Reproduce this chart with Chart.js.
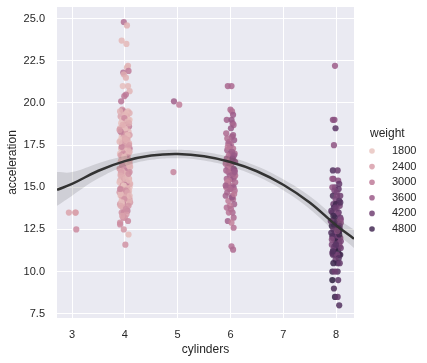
<!DOCTYPE html>
<html>
<head>
<meta charset="utf-8">
<script src="https://cdn.jsdelivr.net/npm/chart.js@4.4.1/dist/chart.umd.min.js"></script>
<style>
  html, body { margin: 0; padding: 0; background: #ffffff; }
  #wrap { width: 427px; height: 363px; }
</style>
</head>
<body>
<div id="wrap"><canvas id="chart" width="427" height="363"></canvas></div>
<script>
// Axis ticks
const xTicks = [3, 4, 5, 6, 7, 8];
const yTicks = [7.5, 10.0, 12.5, 15.0, 17.5, 20.0, 22.5, 25.0];
const legendWeights = [1800, 2400, 3000, 3600, 4200, 4800];

// 3 cylinders
const acc3 = [13.5, 13.5, 13.5, 12.5];
const wt3 = [2330, 2124, 2420, 2720];
const jit3 = [-0.06, 0.06, 0.07, 0.08];

// 4 cylinders
const acc4 = [24.8,24.6,23.7,23.5,22.2,22.1,21.9,21.8,21.7,21.5,21.0,21.0,20.7,20.5,20.4,20.1,
  19.6,19.5,19.5,19.4,19.4,19.2,19.0,19.0,19.0,19.2,19.5,19.3,19.0,19.1,
  18.9,18.8,18.7,18.6,18.6,18.5,18.5,18.4,18.3,18.2,18.2,18.1,18.0,18.0,18.0,18.0,18.5,18.8,18.3,18.7,18.1,18.4,
  17.9,17.8,17.8,17.7,17.6,17.6,17.5,17.5,17.4,17.3,17.3,17.2,17.1,17.0,17.0,17.0,17.6,17.9,17.2,17.4,17.1,17.7,17.0,17.5,17.8,
  16.9,16.9,16.8,16.7,16.6,16.5,16.5,16.4,16.4,16.2,16.2,16.1,16.0,16.0,16.0,16.0,16.3,16.6,16.8,16.5,16.7,16.1,16.4,16.2,16.9,16.0,16.5,16.8,16.3,16.6,
  15.9,15.8,15.8,15.7,15.6,15.5,15.5,15.5,15.4,15.3,15.2,15.2,15.1,15.0,15.0,15.0,15.0,15.9,15.7,15.6,15.4,15.3,15.1,15.8,15.5,15.2,15.6,15.9,15.3,15.4,15.7,15.0,15.5,15.1,15.8,
  14.9,14.8,14.7,14.6,14.5,14.5,14.5,14.4,14.3,14.2,14.2,14.1,14.0,14.0,14.0,14.0,14.9,14.8,14.7,14.6,14.4,14.3,14.1,14.9,14.5,14.8,14.2,14.6,14.4,14.7,14.0,14.3,14.5,14.9,14.1,
  13.9,13.8,13.6,13.5,13.5,13.4,13.2,13.2,13.0,13.9,13.7,13.3,
  12.9,12.8,12.5,12.2,11.6];
const wt4 = [3190,2130,1990,2000,2100,2050,3000,3150,2200,2100,1900,2000,2050,3000,3050,3100,
  2600,2900,2000,2100,1950,2300,1900,2200,2900,2130,2100,2000,1800,2700,
  2000,1850,2300,2000,2900,2100,2600,2200,1950,2050,2500,2400,1800,2300,2700,2100,1900,2200,3000,2150,1960,2450,
  2000,2300,1800,2600,2100,2900,2200,1900,2500,2050,3000,2150,2350,1850,2700,2000,2450,2250,1950,2800,2100,1990,2600,2400,2150,
  2000,2800,2200,1900,2400,2100,2600,2000,2300,1850,2700,2150,2000,2500,1950,3000,2250,2050,2450,1800,2900,2350,1900,2100,2300,2200,2000,1950,2600,2150,
  2100,2300,1900,2500,2000,2200,1800,2700,2050,2400,1950,2600,2150,2000,2300,1850,2900,2650,2000,2800,2250,1900,2500,2100,2350,2150,1850,2400,3000,1950,2200,2450,2050,1800,2600,
  2000,2200,1900,2400,2100,1850,2600,2000,2300,1950,2700,2150,2000,2500,1800,2900,2350,1900,2500,2050,2800,1850,2450,2100,2250,2650,2100,1950,2200,2300,2150,2600,1990,2750,1900,
  2500,2300,2900,2600,2750,2400,2700,2500,2800,2200,2650,2350,
  2600,2700,2500,1950,2600];
const jit4 = [-0.02,0.04,-0.06,0.03,0.06,0.04,0.07,-0.03,-0.02,0.02,-0.04,0.06,0.09,0.02,-0.01,-0.07,
  -0.05,-0.02,0.06,0.09,0.03,-0.08,-0.05,0.01,0.07,0.04,-0.09,0.00,0.09,-0.01,
  0.05,-0.07,0.02,-0.03,0.08,-0.09,0.04,-0.01,0.07,-0.05,0.01,0.09,-0.06,0.03,-0.02,0.06,0.00,0.08,-0.08,-0.04,0.05,-0.10,
  -0.03,0.05,-0.08,0.01,0.08,-0.05,0.03,-0.01,0.06,-0.07,0.09,-0.02,0.04,-0.09,0.02,0.07,-0.04,0.00,0.06,-0.06,0.09,-0.10,-0.03,0.08,0.02,
  0.04,-0.06,0.01,-0.03,0.07,-0.08,0.03,-0.01,0.09,-0.05,0.05,-0.09,0.02,-0.04,0.06,0.00,0.08,-0.07,0.05,-0.02,0.03,-0.10,0.07,0.10,-0.08,-0.06,0.01,-0.01,-0.05,0.09,
  -0.04,0.06,-0.08,0.02,-0.02,0.08,-0.06,0.04,-0.09,0.01,0.07,-0.03,0.05,-0.07,0.03,0.09,-0.01,0.09,-0.05,0.05,0.00,-0.10,-0.04,0.02,-0.01,0.10,0.06,-0.07,0.04,0.08,-0.08,-0.05,0.01,-0.02,0.07,
  0.03,-0.05,0.07,-0.02,0.05,-0.08,0.01,-0.04,0.09,-0.06,0.04,-0.01,0.06,-0.09,0.02,-0.03,-0.07,0.08,-0.10,0.00,0.07,-0.03,0.10,0.05,-0.06,0.02,0.08,-0.08,0.03,0.05,-0.05,-0.01,0.09,-0.09,-0.06,
  0.07,-0.04,0.05,-0.06,-0.02,0.03,-0.03,0.00,0.06,-0.08,0.02,-0.05,
  -0.09,-0.09,-0.02,0.07,0.01];

// 5 cylinders
const acc5 = [20.1, 19.9, 15.9];
const wt5 = [3530, 2950, 2830];
const jit5 = [-0.07, 0.03, -0.08];

// 6 cylinders
const acc6 = [21.0,21.0,19.6,19.5,19.3,19.0,19.0,18.8,18.7,18.5,18.2,18.0,17.8,17.6,17.5,17.4,17.3,17.2,17.0,17.0,
  16.9,16.8,16.7,16.6,16.5,16.5,16.4,16.2,16.0,16.0,16.0,16.0,15.9,15.8,15.7,15.6,15.5,15.5,15.5,15.4,15.3,15.2,15.1,
  15.0,15.0,15.0,14.9,14.8,14.7,14.5,14.5,14.3,14.2,14.0,13.9,13.8,13.5,13.5,13.2,13.0,12.9,12.6,11.5,11.3,
  17.1,16.3,16.1,15.7,15.3,17.7,16.9,16.4,15.8,14.9,14.4,18.1,17.9,16.6,15.1,16.7,15.9,17.4,13.7,14.6];
const wt6 = [3400,3350,3300,3200,3600,3500,3700,3600,3400,3650,3300,3500,3600,3400,3200,3700,3100,3450,3300,3600,
  3150,3500,3400,3250,3050,3650,3350,3500,3200,3400,2900,3600,3300,3100,3500,2950,3400,3200,3700,3050,3300,3450,3150,
  3000,3350,3600,2900,3200,3400,3100,3500,3250,3000,3450,2950,3200,3350,3100,3300,3500,2900,3150,3200,3300,
  3550,3000,3750,3250,2850,3350,3650,3150,3450,3350,3700,3550,3250,2950,3500,3800,3600,3000,3250,3050];
const jit6 = [-0.05,0.02,0.00,0.03,0.05,-0.07,0.02,0.04,0.06,0.01,-0.08,0.03,0.07,-0.04,0.01,-0.01,0.05,-0.06,0.08,0.00,
  -0.03,0.04,-0.07,0.06,-0.02,0.09,0.02,-0.05,0.05,-0.08,0.01,0.08,-0.04,0.03,-0.01,0.07,-0.07,0.02,0.05,-0.03,0.09,-0.05,0.04,
  -0.08,0.01,0.06,-0.02,0.08,-0.06,0.03,-0.09,0.05,-0.04,0.07,-0.01,-0.07,0.04,-0.03,0.06,-0.05,0.02,0.06,0.02,0.05,
  0.03,-0.02,0.06,0.09,-0.06,-0.02,0.07,-0.09,0.05,0.00,0.03,0.05,-0.06,-0.01,-0.09,0.04,0.08,-0.05,0.01,0.07];

// 8 cylinders
const acc8 = [22.2,19.0,19.0,18.5,17.5,16.0,16.0,15.5,15.5,15.4,15.0,15.0,14.9,14.8,14.5,14.5,14.5,14.3,14.2,14.0,
  14.0,14.0,13.9,13.8,13.7,13.5,13.5,13.4,13.2,13.2,13.0,13.0,13.0,12.9,12.8,12.7,12.6,12.5,12.5,12.5,
  12.4,12.3,12.2,12.1,12.0,12.0,12.0,12.0,12.0,11.9,11.8,11.7,11.6,11.5,11.5,11.5,11.4,11.3,11.2,11.1,
  11.0,11.0,11.0,11.0,11.0,11.0,10.8,10.7,10.5,10.5,10.5,10.0,10.0,10.0,9.5,9.5,9.0,8.5,8.5,8.0,
  13.1,13.6,12.9,12.3,11.8,12.7,14.1,13.3,12.6,11.9,12.2,11.4,13.8,14.7,12.8,11.6,15.2,13.0,12.4,11.2];
const wt8 = [3600,3900,3850,4500,3800,4600,4300,4100,3700,3900,4200,3800,4400,4000,4700,3950,4250,4100,4500,4300,
  3900,4900,4150,4600,3850,4400,4200,4000,4800,4350,4100,4650,3750,4450,4250,4900,4050,4500,4300,3950,
  4700,4150,4400,4600,4350,4800,4100,3900,4500,4250,4950,4300,4050,4700,4450,3850,4600,4200,5100,4400,
  4750,4350,4000,4900,4550,4150,4600,4300,4700,4950,4400,4800,4600,4250,5140,4500,4700,4950,4400,4600,
  4000,4500,3800,4650,4100,4200,4600,4850,4550,3950,4900,4250,4350,4150,4750,4500,4400,4250,3900,4650];
const jit8 = [-0.02,-0.06,-0.03,-0.01,-0.04,-0.06,0.03,-0.05,-0.07,0.04,-0.02,-0.07,0.05,-0.03,-0.06,0.02,0.08,-0.01,0.06,-0.05,
  0.03,0.00,0.07,-0.04,0.01,0.05,-0.07,0.03,-0.02,0.08,-0.06,0.02,0.06,-0.03,0.04,-0.08,0.00,0.07,-0.05,0.03,
  0.06,-0.02,0.01,-0.07,0.05,-0.04,0.02,0.08,-0.06,0.04,-0.01,0.06,-0.08,0.03,-0.03,0.07,0.00,-0.05,0.04,-0.07,
  0.01,0.06,-0.03,0.08,-0.06,0.02,0.05,-0.01,0.03,-0.05,0.07,-0.07,0.03,-0.02,-0.07,0.04,-0.04,-0.02,0.03,0.06,
  0.09,-0.09,0.09,-0.09,0.09,0.07,0.08,-0.05,0.05,-0.08,0.06,0.09,-0.01,0.01,-0.04,0.00,0.06,-0.10,0.02,-0.06];

// Order-2 regression line and its confidence band
const curveX = [2.715, 3.0, 3.5, 4.0, 4.5, 5.0, 5.5, 6.0, 6.5, 7.0, 7.5, 8.0, 8.34];
const curveY = [14.85, 15.2, 15.98, 16.55, 16.88, 16.97, 16.84, 16.5, 15.95, 15.15, 14.1, 12.75, 11.95];
const bandHi = [15.90, 15.90, 16.43, 16.85, 17.13, 17.22, 17.09, 16.78, 16.25, 15.48, 14.48, 13.20, 12.50];
const bandLo = [13.90, 14.50, 15.53, 16.25, 16.63, 16.72, 16.59, 16.22, 15.65, 14.82, 13.72, 12.30, 11.40];

const WT_MIN = 1613, WT_MAX = 5140;
const FONT = '"Liberation Sans", Arial, sans-serif';
const TEXT = '#262626';

// seaborn default cubehelix (start 0, rot .4, hue .8, light .85, dark .15)
function colorFor(w, alpha = 0.85) {
    const t = Math.min(1, Math.max(0, (w - WT_MIN) / (WT_MAX - WT_MIN)));
    const x = 0.85 - 0.70 * t;
    const a = 0.8 * x * (1 - x) / 2;
    const phi = 2 * Math.PI * (0.4 * x);
    const c = Math.cos(phi), s = Math.sin(phi);
    const r = x + a * (-0.14861 * c + 1.78277 * s);
    const g = x + a * (-0.29227 * c - 0.90649 * s);
    const b = x + a * (1.97294 * c);
    const to = v => Math.round(255 * Math.min(1, Math.max(0, v)));
    return `rgba(${to(r)}, ${to(g)}, ${to(b)}, ${alpha})`;
}

// Collect scatter points from the per-cylinder arrays
const groups = [
    [3, acc3, wt3, jit3],
    [4, acc4, wt4, jit4],
    [5, acc5, wt5, jit5],
    [6, acc6, wt6, jit6],
    [8, acc8, wt8, jit8]
];
const points = [];
const pointColors = [];
groups.forEach(([cyl, acc, wt, jit]) => {
    acc.forEach((a, i) => {
        points.push({ x: cyl + (jit[i] || 0), y: a });
        pointColors.push(colorFor(wt[i] || 3000));
    });
});

const bgPlugin = {
    id: 'bg',
    beforeDraw(chart) {
        const { ctx, chartArea: a } = chart;
        ctx.save();
        ctx.fillStyle = '#eaeaf2';
        ctx.fillRect(a.left, a.top, a.right - a.left, a.bottom - a.top);
        ctx.restore();
    }
};

const legendPlugin = {
    id: 'weightLegend',
    afterDraw(chart) {
        const ctx = chart.ctx;
        ctx.save();
        ctx.textBaseline = 'middle';
        ctx.textAlign = 'left';
        ctx.fillStyle = TEXT;
        ctx.font = '12px ' + FONT;
        ctx.fillText('weight', 370, 134);
        ctx.font = '11px ' + FONT;
        legendWeights.forEach((w, i) => {
            const y = 151 + i * 15.6;
            ctx.beginPath();
            ctx.arc(372, y, 2.8, 0, Math.PI * 2);
            ctx.fillStyle = colorFor(w);
            ctx.fill();
            ctx.fillStyle = TEXT;
            ctx.fillText(String(w), 392, y);
        });
        ctx.restore();
    }
};

new Chart(document.getElementById('chart'), {
    type: 'scatter',
    data: {
        datasets: [
            {
                type: 'line',
                data: curveX.map((x, i) => ({ x, y: curveY[i] })),
                borderColor: '#333333',
                borderWidth: 2.5,
                pointRadius: 0,
                tension: 0.4,
                fill: false
            },
            {
                type: 'line',
                data: curveX.map((x, i) => ({ x, y: bandHi[i] })),
                borderWidth: 0,
                borderColor: 'rgba(0,0,0,0)',
                backgroundColor: 'rgba(51, 51, 51, 0.15)',
                pointRadius: 0,
                tension: 0.4,
                fill: '+1'
            },
            {
                type: 'line',
                data: curveX.map((x, i) => ({ x, y: bandLo[i] })),
                borderWidth: 0,
                borderColor: 'rgba(0,0,0,0)',
                pointRadius: 0,
                tension: 0.4,
                fill: false
            },
            {
                data: points,
                pointBackgroundColor: pointColors,
                pointBorderWidth: 0,
                pointRadius: 3.1,
                pointHoverRadius: 3.1
            }
        ]
    },
    options: {
        responsive: false,
        animation: false,
        events: [],
        layout: { padding: { top: 7, right: 73, left: 0, bottom: 0 } },
        plugins: { legend: { display: false }, tooltip: { enabled: false } },
        scales: {
            x: {
                type: 'linear',
                min: 2.715,
                max: 8.34,
                afterBuildTicks: axis => { axis.ticks = xTicks.map(v => ({ value: v })); },
                afterFit: scale => { scale.height = 45; scale.paddingLeft = 0; scale.paddingRight = 0; },
                grid: { color: '#ffffff', lineWidth: 1, drawTicks: false },
                border: { display: false },
                ticks: { color: TEXT, font: { family: FONT, size: 11 }, padding: 10, callback: v => String(v) },
                title: { display: true, text: 'cylinders', color: TEXT, font: { family: FONT, size: 12 }, padding: { top: 0, bottom: 6 } }
            },
            y: {
                type: 'linear',
                min: 7.25,
                max: 25.69,
                afterBuildTicks: axis => { axis.ticks = yTicks.map(v => ({ value: v })); },
                afterFit: scale => { scale.width = 57; scale.paddingTop = 0; scale.paddingBottom = 0; },
                grid: { color: '#ffffff', lineWidth: 1, drawTicks: false },
                border: { display: false },
                ticks: { color: TEXT, font: { family: FONT, size: 11 }, padding: 12, callback: v => v.toFixed(1) },
                title: { display: true, text: 'acceleration', color: TEXT, font: { family: FONT, size: 12 }, padding: { top: 5, bottom: 0 } }
            }
        }
    },
    plugins: [bgPlugin, legendPlugin]
});
</script>
</body>
</html>
